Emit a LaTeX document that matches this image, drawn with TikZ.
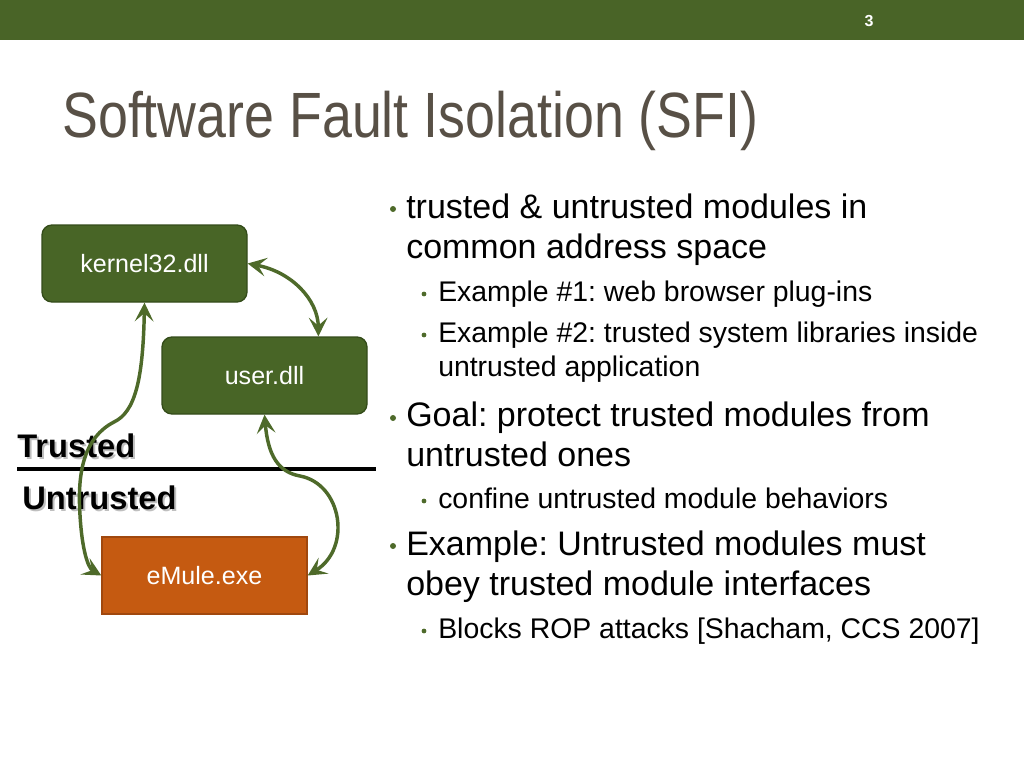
\documentclass[tikz,border=0pt]{standalone}
\usepackage{fontspec}
\setmainfont{Liberation Sans}
\newfontfamily\titlefont[FakeStretch=0.84]{Liberation Sans}
\usepackage{tikz}
\usetikzlibrary{calc,positioning,arrows.meta}
\frenchspacing
\definecolor{barGreen}{RGB}{73,100,39}
\definecolor{boxGreen}{RGB}{72,101,38}
\definecolor{boxEdge}{RGB}{52,76,26}
\definecolor{appOrange}{RGB}{197,90,17}
\definecolor{appEdge}{RGB}{160,72,14}
\definecolor{linkGreen}{RGB}{78,106,42}
\definecolor{titleGray}{RGB}{88,80,70}
\tikzset{
node distance=4cm, % spacing between nodes
modbox/.style={draw=boxEdge, fill=boxGreen, line width=1pt, rounded corners=7.5pt,
  minimum width=153.75pt, minimum height=57.75pt, text=white,
  font=\fontsize{18.8}{22}\selectfont},
appbox/.style={modbox, draw=appEdge, fill=appOrange, rounded corners=0pt},
link/.style={draw=linkGreen, line width=2.6pt,
  {Stealth[length=14pt,width=14pt,inset=6pt]}-{Stealth[length=14pt,width=14pt,inset=6pt]}},
zone/.style={font=\fontsize{24.5}{28}\selectfont\bfseries, inner sep=0pt, anchor=base west},
bodyA/.style={font=\fontsize{25.5}{30}\selectfont, align=left, inner sep=0pt, anchor=base west},
bodyB/.style={font=\fontsize{21.3}{25.5}\selectfont, align=left, inner sep=0pt, anchor=base west},
dotA/.style={circle, fill=linkGreen, inner sep=0pt, minimum size=4.5pt},
dotB/.style={circle, fill=linkGreen, inner sep=0pt, minimum size=3.6pt},
}

\begin{document}
\begin{tikzpicture}[x=0.75pt,y=0.75pt,yscale=-1,xscale=1]
\useasboundingbox (0,0) rectangle (1024,768);
%Top Bar
\fill[barGreen] (0,0) rectangle (1024,40);
\node[text=white, font=\fontsize{12}{14}\selectfont\bfseries] (pagenum) at (869,21) {3};
\node[text=titleGray, font=\fontsize{48}{56}\titlefont, inner sep=0pt, anchor=base west] (title) at (62,137) {Software Fault Isolation (SFI)};
%Rounded Rect
\node[modbox] (kernel) at (144.5,263.5) {kernel32.dll};
\node[modbox] (user) at (264.5,375.5) {user.dll};
%Rect
\node[appbox] (emule) at (204.5,575.5) {eMule.exe};
%Zone labels
\node[zone, text=black!25] (trustedsh) at (19,459) {Trusted};
\node[zone] (trusted) at (17,457) {Trusted};
\node[zone, text=black!25] (untrustedsh) at (24,511) {Untrusted};
\node[zone] (untrusted) at (22,509) {Untrusted};
\coordinate (sepL) at (17,469);
\coordinate (sepR) at (376,469);
\draw[line width=2.4pt] (sepL) -- (sepR);
%Curve Lines
\draw[link] (kernel.east) .. controls (292,272) and (318,300) .. (user.36);
\draw[link] (kernel.south) .. controls (143,380) and (135,412) .. (114,422) .. controls (85,437) and (77,470) .. (80,515) .. controls (82,550) and (88,568) .. (emule.west);
\draw[link] (user.south) .. controls (268,455) and (278,472) .. (300,476) .. controls (342,484) and (352,548) .. (emule.east);
%Bullets
\node[dotA] (d1) at (393,209) {};
\node[bodyA] (p1) at (406,258) {trusted \& untrusted modules in\\common address space};
\node[dotB] (d2) at (424,294) {};
\node[bodyB] (p2) at (438,301) {Example \#1: web browser plug-ins};
\node[dotB] (d3) at (424,335) {};
\node[bodyB] (p3) at (438,376) {Example \#2: trusted system libraries inside\\untrusted application};
\node[dotA] (d4) at (393,418) {};
\node[bodyA] (p4) at (406,466) {Goal: protect trusted modules from\\untrusted ones};
\node[dotB] (d5) at (424,501) {};
\node[bodyB] (p5) at (438,508) {confine untrusted module behaviors};
\node[dotA] (d6) at (393,546) {};
\node[bodyA] (p6) at (406,595) {Example: Untrusted modules must\\obey trusted module interfaces};
\node[dotB] (d7) at (424,631) {};
\node[bodyB] (p7) at (438,638) {Blocks ROP attacks [Shacham, CCS 2007]};
\end{tikzpicture}
\end{document}
